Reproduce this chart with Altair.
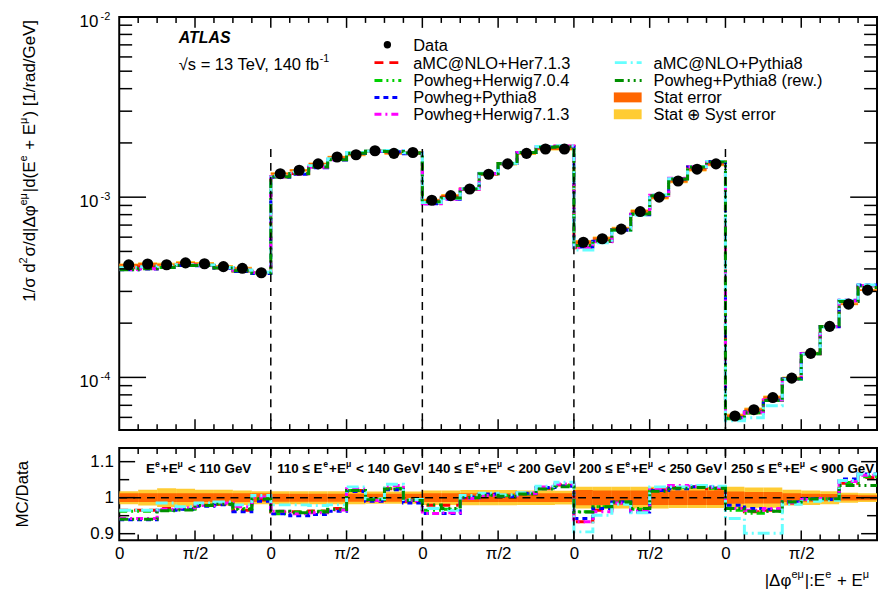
import altair as alt
import numpy as np
import pandas as pd

FONT = "Liberation Sans"
PI = float(np.pi)
W, H1, H2 = 763, 416, 93
NB, NR = 8, 5

# ---------------- data ----------------
data_vals = [4.21e-4, 4.26e-4, 4.22e-4, 4.32e-4, 4.27e-4, 4.12e-4, 4.03e-4, 3.81e-4,
             1.35e-3, 1.41e-3, 1.53e-3, 1.67e-3, 1.72e-3, 1.81e-3, 1.75e-3, 1.77e-3,
             9.62e-4, 1.02e-3, 1.11e-3, 1.34e-3, 1.53e-3, 1.75e-3, 1.85e-3, 1.85e-3,
             5.62e-4, 5.88e-4, 6.65e-4, 8.32e-4, 1.00e-3, 1.23e-3, 1.43e-3, 1.53e-3,
             6.11e-5, 6.62e-5, 7.73e-5, 9.91e-5, 1.36e-4, 1.92e-4, 2.55e-4, 3.05e-4]
stat_err = [0.012, 0.012, 0.012, 0.012, 0.012, 0.012, 0.012, 0.012,
            0.011, 0.011, 0.011, 0.011, 0.011, 0.011, 0.011, 0.011,
            0.012, 0.012, 0.012, 0.012, 0.012, 0.012, 0.012, 0.012,
            0.021, 0.020, 0.020, 0.020, 0.020, 0.020, 0.020, 0.020,
            0.017, 0.016, 0.016, 0.012, 0.011, 0.010, 0.008, 0.007]
tot_err = [0.018, 0.022, 0.026, 0.025, 0.022, 0.022, 0.020, 0.018,
           0.018, 0.018, 0.018, 0.018, 0.018, 0.017, 0.017, 0.017,
           0.020, 0.020, 0.021, 0.021, 0.021, 0.020, 0.020, 0.019,
           0.030, 0.030, 0.030, 0.030, 0.030, 0.029, 0.029, 0.029,
           0.030, 0.028, 0.028, 0.022, 0.020, 0.018, 0.014, 0.012]

gen_names = ["aMC@NLO+Her7.1.3", "Powheg+Herwig7.0.4", "Powheg+Pythia8",
             "Powheg+Herwig7.1.3", "aMC@NLO+Pythia8", "Powheg+Pythia8 (rew.)"]
gen_colors = ["#ff0000", "#00d000", "#0000ff", "#ff00ff", "#66ffff", "#008f00"]
gen_dash = [[9, 6], [8, 4, 2, 4, 2, 4], [5, 4], [7, 4, 2, 4], [12, 4, 2, 4], [9, 4, 2, 4, 2, 4]]

ratio_amc_her = [0.965, 0.965, 0.970, 0.970, 0.979, 0.982, 0.965, 0.995,
                 0.960, 0.961, 0.963, 0.970, 1.020, 0.993, 1.025, 0.990,
                 0.979, 0.979, 1.000, 1.008, 1.005, 1.010, 1.025, 1.035,
                 0.933, 0.965, 0.988, 0.962, 1.022, 1.028, 1.030, 1.025,
                 0.970, 0.961, 0.965, 0.985, 0.995, 0.997, 1.040, 1.056]
ratio_pw_her704 = [0.962, 0.962, 0.965, 0.968, 0.980, 0.984, 0.970, 0.997,
                   0.955, 0.960, 0.962, 0.968, 1.020, 0.995, 1.026, 0.993,
                   0.965, 0.968, 1.000, 1.008, 1.006, 1.010, 1.026, 1.033,
                   0.961, 0.975, 0.988, 0.968, 1.020, 1.028, 1.030, 1.026,
                   0.965, 0.957, 0.962, 0.988, 0.996, 0.997, 1.042, 1.058]
ratio_pw_py8 = [0.939, 0.939, 0.965, 0.968, 0.976, 0.980, 0.961, 0.990,
                0.955, 0.950, 0.953, 0.962, 1.017, 0.990, 1.022, 0.985,
                0.956, 0.956, 1.002, 1.010, 1.003, 1.012, 1.028, 1.032,
                0.942, 0.970, 0.988, 0.960, 1.020, 1.025, 1.030, 1.030,
                0.979, 0.970, 0.968, 0.988, 0.997, 0.995, 1.052, 1.066]
ratio_pw_her713 = [0.942, 0.942, 0.968, 0.972, 0.978, 0.985, 0.975, 1.002,
                   0.962, 0.955, 0.958, 0.966, 1.025, 0.992, 1.034, 0.992,
                   0.956, 0.958, 0.998, 1.006, 1.005, 1.012, 1.030, 1.038,
                   0.933, 0.961, 0.985, 0.965, 1.024, 1.034, 1.032, 1.028,
                   0.970, 0.965, 0.970, 0.986, 0.995, 0.998, 1.045, 1.062]
ratio_amc_py8 = [0.965, 0.965, 0.985, 0.975, 0.985, 0.988, 0.980, 1.006,
                 0.980, 0.980, 0.978, 0.980, 1.030, 0.997, 1.037, 0.995,
                 0.970, 0.965, 1.006, 1.012, 1.008, 1.014, 1.032, 1.043,
                 0.905, 0.951, 0.982, 0.958, 1.030, 1.030, 1.034, 1.032,
                 0.942, 0.901, 0.901, 0.982, 0.990, 0.993, 1.048, 1.066]
ratio_pw_py8_rew = [0.940, 0.940, 0.964, 0.966, 0.978, 0.982, 0.968, 0.996,
                    0.962, 0.958, 0.960, 0.967, 1.020, 0.994, 1.024, 0.992,
                    0.980, 0.970, 1.000, 1.007, 1.004, 1.010, 1.024, 1.030,
                    0.960, 0.975, 0.988, 0.970, 1.018, 1.026, 1.028, 1.026,
                    0.970, 0.962, 0.962, 0.988, 0.996, 0.997, 1.034, 1.034]
gen_ratios = [ratio_amc_her, ratio_pw_her704, ratio_pw_py8, ratio_pw_her713,
              ratio_amc_py8, ratio_pw_py8_rew]

region_lo = ["", "110", "140", "200", "250"]
region_hi = ["110", "140", "200", "250", "900"]
log_major = [1e-4, 1e-3, 1e-2]
log_major_lab = ["-4", "-3", "-2"]

# ---------------- helpers ----------------
REG = {' ': 278, '.': 278, ',': 278, '/': 278, '|': 260, ':': 278, '+': 584, '=': 584,
       '<': 584, '≤': 549, '(': 333, ')': 333, '[': 278, ']': 278, '@': 1015, '-': 333,
       'A': 667, 'C': 722, 'D': 722, 'E': 667, 'G': 778, 'H': 722, 'L': 556, 'M': 833,
       'N': 722, 'O': 778, 'P': 667, 'S': 667, 'T': 611, 'V': 667, 'a': 556, 'b': 556,
       'd': 556, 'e': 556, 'f': 278, 'r': 333, 's': 500, 'σ': 600, 'Δ': 668, 'φ': 650,
       'μ': 576, '√': 350}
BOLD = dict(REG)
BOLD.update({'b': 611, 'd': 611, 'r': 389, 's': 556, 'μ': 611})


def tw(s, size, bold=False):
    t = BOLD if bold else REG
    return sum(t.get(c, 556) for c in s) * size / 1000.0


def piece_w(p, s, size, bold):
    return tw(p, size * 0.65 if s else size, bold) + (1.0 if s else 0)


def rich(pieces, x0, y0, size, bold=False, angle=0, right=False):
    total = sum(piece_w(p, s, size, bold) for p, s in pieces)
    off = -total if right else 0.0
    out = []
    for p, s in pieces:
        fs = size * 0.65 if s else size
        rise = size * 0.45 if s else 0
        body = p.lstrip(" ")
        lead = tw(p[:len(p) - len(body)], fs, bold)
        if angle == 0:
            px, py = x0 + off + lead, y0 - rise
        else:
            px, py = x0 - rise, y0 - off - lead
        out.append(alt.Chart(pd.DataFrame({"t": [body]})).mark_text(
            align="left", baseline="alphabetic", font=FONT, fontSize=fs,
            fontWeight="bold" if bold else "normal", angle=angle, color="black"
        ).encode(x=alt.value(px), y=alt.value(py), text="t:N"))
        off += piece_w(p, s, size, bold)
    return out


nb = NB * NR
lo = [i * PI / NB for i in range(nb)]
hi = [(i + 1) * PI / NB for i in range(nb)]
bins = pd.DataFrame({"lo": lo, "hi": hi, "c": [(a + b) / 2 for a, b in zip(lo, hi)],
                     "d": data_vals, "st": stat_err, "tt": tot_err})
bins["tl"] = bins.d * (1 - bins.tt)
bins["th"] = bins.d * (1 + bins.tt)
bins["sl"] = bins.d * (1 - bins.st)
bins["sh"] = bins.d * (1 + bins.st)
bins["rtl"] = 1 - bins.tt
bins["rth"] = 1 + bins.tt
bins["rsl"] = 1 - bins.st
bins["rsh"] = 1 + bins.st


def step_df(vals):
    xs_, ys_ = [], []
    for i, v in enumerate(vals):
        xs_ += [lo[i], hi[i]]
        ys_ += [v, v]
    return pd.DataFrame({"x": xs_, "y": ys_, "i": list(range(len(xs_)))})


XS = alt.Scale(domain=[0, 5 * PI], nice=False, zero=False)
YS = alt.Scale(type="log", domain=[5.1e-5, 1e-2], nice=False)
RS = alt.Scale(domain=[0.8815, 1.138], nice=False, zero=False)

XAX = alt.Axis(values=[k * PI / 2 for k in range(10)],
               labelExpr="(round(datum.value/(PI/2)) % 2) == 0 ? '0' : 'π/2'",
               ticks=False, domain=False, grid=False, labelFlush=False, labelOverlap=False,
               labelFontSize=17, labelFont=FONT, labelColor="black", labelPadding=5, title=None)
RAX = alt.Axis(values=[0.9, 1.0, 1.1],
               labelExpr="abs(datum.value-1) < 0.001 ? '1' : format(datum.value, '.1f')",
               ticks=False, domain=False, grid=False, labelFlush=False, labelOverlap=False,
               labelFontSize=17, labelFont=FONT, labelColor="black", labelPadding=6, title=None)


def tick_layers(H, xaxis, yscale, yaxis, ymaj, ymin, ymaj_len, ymin_len, xmaj_len, xmin_len):
    out = []
    minor = [k * PI / 8 for k in range(1, 40) if k % 4]
    major = [k * PI / 2 for k in range(1, 10)]
    for vals, L in ((minor, xmin_len), (major, xmaj_len)):
        df = pd.DataFrame({"v": vals})
        for y0, y1 in ((0, L), (H - L, H)):
            out.append(alt.Chart(df).mark_rule(color="black", strokeWidth=1.5).encode(
                x=alt.X("v:Q", scale=XS, axis=xaxis), y=alt.value(y0), y2=alt.value(y1)))
    for vals, L in ((ymin, ymin_len), (ymaj, ymaj_len)):
        df = pd.DataFrame({"w": vals})
        for x0, x1 in ((0, L), (W - L, W)):
            out.append(alt.Chart(df).mark_rule(color="black", strokeWidth=1.5).encode(
                y=alt.Y("w:Q", scale=yscale, axis=yaxis), x=alt.value(x0), x2=alt.value(x1)))
    return out


def anchor(y):
    return alt.Chart(pd.DataFrame({"a": [0]})).mark_rule(color="white", opacity=0).encode(
        x=alt.value(-111), x2=alt.value(-109), y=alt.value(y), y2=alt.value(y))


# ---------------- top panel ----------------
top = []
top.append(alt.Chart(bins).mark_rect(color="#ffcc33", clip=True).encode(
    x=alt.X("lo:Q", scale=XS, axis=None), x2="hi:Q",
    y=alt.Y("tl:Q", scale=YS, axis=None), y2="th:Q"))
top.append(alt.Chart(bins).mark_rect(color="#ff6600", clip=True).encode(
    x=alt.X("lo:Q", scale=XS, axis=None), x2="hi:Q",
    y=alt.Y("sl:Q", scale=YS, axis=None), y2="sh:Q"))
for name, col, dash, rat in zip(gen_names, gen_colors, gen_dash, gen_ratios):
    vals = [d * r for d, r in zip(data_vals, rat)]
    top.append(alt.Chart(step_df(vals)).mark_line(
        color=col, strokeDash=dash, strokeWidth=3, clip=True).encode(
        x=alt.X("x:Q", scale=XS, axis=None), y=alt.Y("y:Q", scale=YS, axis=None),
        order="i:Q"))
bound_df = pd.DataFrame({"bx": [PI, 2 * PI, 3 * PI, 4 * PI], "by": [1.85e-3] * 4})
top.append(alt.Chart(bound_df).mark_rule(color="black", strokeDash=[8, 6], strokeWidth=1.5).encode(
    x=alt.X("bx:Q", scale=XS, axis=None), y=alt.Y("by:Q", scale=YS, axis=None), y2=alt.value(H1)))
top.append(alt.Chart(bins).mark_circle(size=125, color="black", opacity=1).encode(
    x=alt.X("c:Q", scale=XS, axis=None), y=alt.Y("d:Q", scale=YS, axis=None)))
ymin_top = [m * 10.0 ** e for e in (-5, -4, -3) for m in range(2, 10) if m * 10.0 ** e > 5.1e-5]
top += tick_layers(H1, None, YS, None, log_major, ymin_top, 27, 13, 11, 6)
lab_df = pd.DataFrame({"w": log_major, "s": log_major_lab, "m": ["10"] * 3})
top.append(alt.Chart(lab_df).mark_text(align="right", baseline="alphabetic", font=FONT,
                                       fontSize=11, dy=3, color="black").encode(
    y=alt.Y("w:Q", scale=YS, axis=None), x=alt.value(-9), text="s:N"))
top.append(alt.Chart(lab_df).mark_text(align="right", baseline="alphabetic", font=FONT,
                                       fontSize=17, dy=10, color="black").encode(
    y=alt.Y("w:Q", scale=YS, axis=None), x=alt.value(-21), text="m:N"))
# ATLAS label
top.append(alt.Chart(pd.DataFrame({"t": ["ATLAS"]})).mark_text(
    align="left", baseline="alphabetic", font=FONT, fontSize=16, fontWeight="bold",
    fontStyle="italic", color="black").encode(x=alt.value(60), y=alt.value(26.5), text="t:N"))
top += rich([("√s = 13 TeV, 140 fb", 0), ("-1", 1)], 60, 53.3, 16.6)
# y title
ytitle = [("1/σ d", 0), ("2", 1), ("σ/d|Δφ", 0), ("eμ", 1), ("|d(E", 0), ("e", 1),
          (" + E", 0), ("μ", 1), (") [1/rad/GeV]", 0)]
ylen = sum(piece_w(p, s, 17, False) for p, s in ytitle)
top += rich(ytitle, -85, 3 + ylen, 17, angle=270)
# legend
rows = [28, 46, 64, 81, 98]
leg_pos = [(0, 1), (0, 2), (0, 3), (0, 4), (1, 1), (1, 2)]
top.append(alt.Chart(pd.DataFrame({"a": [0]})).mark_circle(size=55, color="black", opacity=1).encode(
    x=alt.value(270), y=alt.value(rows[0])))
top.append(alt.Chart(pd.DataFrame({"t": ["Data"]})).mark_text(
    align="left", baseline="middle", font=FONT, fontSize=16.5, color="black", dy=1).encode(
    x=alt.value(296), y=alt.value(rows[0]), text="t:N"))
for (ci, ri), name, col, dash in zip(leg_pos, gen_names, gen_colors, gen_dash):
    lx0, tx = (257, 296) if ci == 0 else (499, 538)
    top.append(alt.Chart(pd.DataFrame({"a": [0]})).mark_rule(
        color=col, strokeDash=dash, strokeWidth=3).encode(
        x=alt.value(lx0), x2=alt.value(lx0 + 27), y=alt.value(rows[ri]), y2=alt.value(rows[ri])))
    top.append(alt.Chart(pd.DataFrame({"t": [name]})).mark_text(
        align="left", baseline="middle", font=FONT, fontSize=16.5, color="black", dy=1).encode(
        x=alt.value(tx), y=alt.value(rows[ri]), text="t:N"))
for ri, col, name in ((3, "#ff6600", "Stat error"), (4, "#ffcc33", "Stat ⊕ Syst error")):
    top.append(alt.Chart(pd.DataFrame({"a": [0]})).mark_rect(color=col).encode(
        x=alt.value(498), x2=alt.value(526), y=alt.value(rows[ri] - 5), y2=alt.value(rows[ri] + 5)))
    top.append(alt.Chart(pd.DataFrame({"t": [name]})).mark_text(
        align="left", baseline="middle", font=FONT, fontSize=16.5, color="black", dy=1).encode(
        x=alt.value(538), y=alt.value(rows[ri]), text="t:N"))
top.append(anchor(-6))
top_chart = alt.layer(*top).properties(width=W, height=H1)

# ---------------- ratio panel ----------------
bot = []
bot.append(alt.Chart(bins).mark_rect(color="#ffcc33", clip=True).encode(
    x=alt.X("lo:Q", scale=XS, axis=XAX), x2="hi:Q",
    y=alt.Y("rtl:Q", scale=RS, axis=RAX), y2="rth:Q"))
bot.append(alt.Chart(bins).mark_rect(color="#ff6600", clip=True).encode(
    x=alt.X("lo:Q", scale=XS, axis=XAX), x2="hi:Q",
    y=alt.Y("rsl:Q", scale=RS, axis=RAX), y2="rsh:Q"))
bot.append(alt.Chart(pd.DataFrame({"one": [1.0]})).mark_rule(
    color="black", strokeDash=[8, 6], strokeWidth=1.5).encode(
    y=alt.Y("one:Q", scale=RS, axis=RAX), x=alt.value(0), x2=alt.value(W)))
for name, col, dash, rat in zip(gen_names, gen_colors, gen_dash, gen_ratios):
    bot.append(alt.Chart(step_df(rat)).mark_line(
        color=col, strokeDash=dash, strokeWidth=3, clip=True).encode(
        x=alt.X("x:Q", scale=XS, axis=XAX), y=alt.Y("y:Q", scale=RS, axis=RAX),
        order="i:Q"))
bot.append(alt.Chart(bound_df).mark_rule(color="black", strokeDash=[8, 6], strokeWidth=1.5).encode(
    x=alt.X("bx:Q", scale=XS, axis=XAX), y=alt.value(0), y2=alt.value(H2)))
bot += tick_layers(H2, XAX, RS, RAX, [0.9, 1.0, 1.1], [0.95, 1.05], 16, 10, 10, 6)
starts = [27, 159, 311, 463, 616]
for k in range(NR):
    pre = (region_lo[k] + " ≤ E") if region_lo[k] else "E"
    pieces = [(pre, 0), ("e", 1), ("+E", 0), ("μ", 1), (" < " + region_hi[k] + " GeV", 0)]
    bot += rich(pieces, starts[k], 25.5, 13.5, bold=True)
bot.append(alt.Chart(pd.DataFrame({"t": ["MC/Data"]})).mark_text(
    align="center", baseline="middle", font=FONT, fontSize=17, angle=270, color="black").encode(
    x=alt.value(-97), y=alt.value(H2 / 2), text="t:N"))
bot += rich([("|Δφ", 0), ("eμ", 1), ("|:E", 0), ("e", 1), (" + E", 0), ("μ", 1)],
            756, 139, 17, right=True)
bot.append(anchor(40))
bot_chart = alt.layer(*bot).properties(width=W, height=H2)

chart = alt.vconcat(top_chart, bot_chart, spacing=14).properties(
    padding=0, background="white"
).configure_view(stroke="black", strokeWidth=2)

chart.save("out.html", embed_options={"renderer": "svg", "actions": False})
